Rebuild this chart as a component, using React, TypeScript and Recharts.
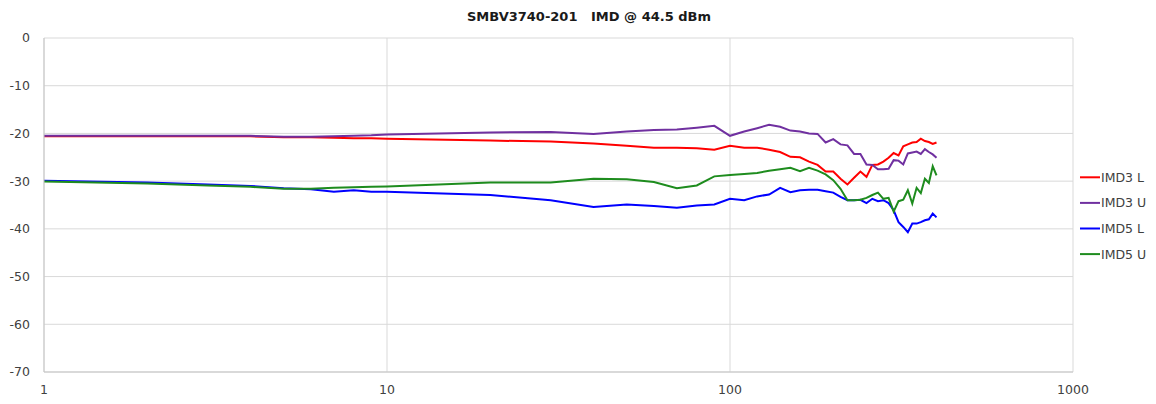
import React from 'react';
import { LineChart, Line, XAxis, YAxis, CartesianGrid } from 'recharts';

const TITLE = 'SMBV3740-201\u00a0\u00a0\u00a0IMD @ 44.5 dBm';

const freqs = [
  1, 2, 3, 4, 5, 6, 7, 8, 9, 10,
  20, 30, 40, 50, 60, 70, 80, 90,
  100, 110, 120, 130, 140, 150, 160, 170, 180, 190, 200, 210, 220, 230, 240, 250,
  260, 270, 280, 290, 300, 310, 320, 330, 340, 350, 360, 370, 380, 390, 400,
];

const imd3L = [
  -20.6, -20.6, -20.6, -20.6, -20.8, -20.8, -20.9, -21.0, -21.0, -21.1,
  -21.5, -21.7, -22.1, -22.6, -23.0, -23.0, -23.1, -23.4,
  -22.6, -23.0, -23.0, -23.4, -23.9, -24.9, -25.0, -25.9, -26.6, -28.0, -28.0, -29.5, -30.7, -29.3, -28.0, -29.1,
  -26.6, -26.5, -25.9, -25.1, -24.1, -24.6, -22.7, -22.3, -21.9, -21.8, -21.1, -21.6, -21.8, -22.2, -21.9,
];

const imd3U = [
  -20.5, -20.5, -20.5, -20.5, -20.7, -20.7, -20.6, -20.5, -20.4, -20.2,
  -19.8, -19.7, -20.1, -19.6, -19.3, -19.2, -18.8, -18.4,
  -20.5, -19.6, -18.9, -18.2, -18.6, -19.4, -19.6, -20.0, -20.1, -21.9, -21.2, -22.3, -22.5, -24.3, -24.3, -26.5,
  -26.6, -27.5, -27.5, -27.4, -25.6, -25.7, -26.5, -24.2, -24.0, -23.8, -24.3, -23.3, -23.9, -24.4, -25.1,
];

const imd5L = [
  -29.9, -30.3, -30.7, -31.0, -31.5, -31.7, -32.2, -31.9, -32.2, -32.2,
  -32.9, -34.0, -35.4, -34.9, -35.2, -35.6, -35.1, -34.9,
  -33.7, -34.0, -33.2, -32.8, -31.4, -32.3, -31.9, -31.8, -31.8, -32.1, -32.4, -33.3, -34.0, -34.0, -33.9, -34.6,
  -33.7, -34.2, -34.0, -34.6, -36.1, -38.6, -39.6, -40.7, -38.9, -38.9, -38.6, -38.2, -38.0, -36.8, -37.6,
];

const imd5U = [
  -30.1, -30.5, -30.9, -31.2, -31.6, -31.6, -31.4, -31.3, -31.2, -31.1,
  -30.3, -30.3, -29.5, -29.6, -30.2, -31.5, -30.9, -29.0,
  -28.7, -28.5, -28.3, -27.8, -27.5, -27.2, -27.9, -27.2, -27.8, -28.6, -29.8, -31.6, -34.0, -34.0, -33.9, -33.5,
  -32.9, -32.4, -33.7, -33.5, -36.4, -34.2, -33.9, -31.9, -34.7, -31.4, -32.5, -29.5, -30.4, -26.9, -28.8,
];

const xTicks = [1, 10, 100, 1000];
const yTicks = [-70, -60, -50, -40, -30, -20, -10, 0];

const seriesNames = ['IMD3 L', 'IMD3 U', 'IMD5 L', 'IMD5 U'];
const seriesKeys = ['imd3L', 'imd3U', 'imd5L', 'imd5U'];
const seriesColors = ['#ff0000', '#7030a0', '#0000ff', '#1e8c1e'];

const data = freqs.map((f, i) => ({
  f,
  imd3L: imd3L[i],
  imd3U: imd3U[i],
  imd5L: imd5L[i],
  imd5U: imd5U[i],
}));

const FONT = '"DejaVu Sans", "Liberation Sans", sans-serif';
const TEXT_COLOR = '#404040';

export default function App() {
  return (
    <div style={{ position: 'absolute', left: 0, top: 0, width: 1156, height: 404, background: '#fff', fontFamily: FONT }}>
      <LineChart width={1156} height={404} data={data} margin={{ top: 38, right: 83, bottom: 2, left: 0 }}>
        <CartesianGrid stroke="#d9d9d9" strokeWidth={1} />
        <XAxis
          dataKey="f"
          type="number"
          scale="log"
          domain={[1, 1000]}
          ticks={xTicks}
          allowDataOverflow
          height={30}
          tickLine={false}
          tickSize={6}
          tickMargin={7}
          axisLine={{ stroke: '#c6c6c6' }}
          tick={{ fontSize: 12.5, fill: TEXT_COLOR, fontFamily: FONT }}
          interval={0}
        />
        <YAxis
          type="number"
          domain={[-70, 0]}
          ticks={yTicks}
          width={44}
          tickLine={false}
          tickSize={6}
          tickMargin={8}
          axisLine={{ stroke: '#c6c6c6' }}
          tick={{ fontSize: 12.5, fill: TEXT_COLOR, fontFamily: FONT }}
          interval={0}
        />
        {seriesKeys.map((k, i) => (
          <Line
            key={k}
            type="linear"
            dataKey={k}
            name={seriesNames[i]}
            stroke={seriesColors[i]}
            strokeWidth={2}
            dot={false}
            activeDot={false}
            isAnimationActive={false}
          />
        ))}
      </LineChart>
      <svg width={1156} height={404} style={{ position: 'absolute', left: 0, top: 0, pointerEvents: 'none' }}>
        <text x={589} y={21} textAnchor="middle" fontWeight="bold" fontSize={13} fill="#1a1a1a" fontFamily={FONT}>
          {TITLE}
        </text>
        {seriesNames.map((name, i) => {
          const cy = 177.3 + i * 25.6;
          return (
            <g key={name}>
              <line x1={1080} x2={1100} y1={cy} y2={cy} stroke={seriesColors[i]} strokeWidth={2} />
              <text x={1101} y={cy + 4.4} fontSize={12.5} fill={TEXT_COLOR} fontFamily={FONT}>
                {name}
              </text>
            </g>
          );
        })}
      </svg>
    </div>
  );
}
